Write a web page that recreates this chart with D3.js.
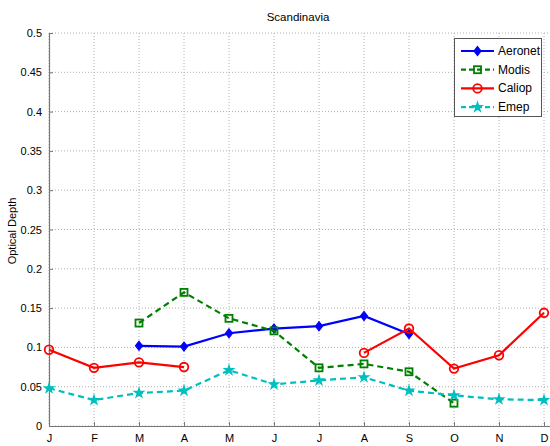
<!DOCTYPE html>
<html>
<head>
<meta charset="utf-8">
<script src="https://cdn.jsdelivr.net/npm/d3@7"></script>
<style>
  html, body { margin: 0; padding: 0; background: #fff; }
  svg { display: block; font-family: "Liberation Sans", Arial, Helvetica, sans-serif; }
</style>
</head>
<body>
<svg id="chart" width="550" height="446"></svg>
<script>
// Monthly optical depth over Scandinavia, four data sources
const months = ["J", "F", "M", "A", "M", "J", "J", "A", "S", "O", "N", "D"];
const yTicks = [0, 0.05, 0.1, 0.15, 0.2, 0.25, 0.3, 0.35, 0.4, 0.45, 0.5];

// null marks a month without a value (line breaks there)
const aeronet = [null, null, 0.102, 0.101, 0.118, 0.124, 0.127, 0.140, 0.117, null, null, null];
const modis   = [null, null, 0.131, 0.170, 0.137, 0.121, 0.074, 0.079, 0.069, 0.029, null, null];
const caliop  = [0.097, 0.074, 0.081, 0.075, null, null, null, 0.093, 0.124, 0.073, 0.090, 0.144];
const emep    = [0.048, 0.033, 0.042, 0.045, 0.071, 0.053, 0.058, 0.062, 0.045, 0.039, 0.034, 0.033];

const seriesNames = ["Aeronet", "Modis", "Caliop", "Emep"];
const seriesData = [aeronet, modis, caliop, emep];

const styles = {
  Aeronet: { color: "#0000ff", dash: null, marker: "diamond" },
  Modis:   { color: "#007f00", dash: "6,4", marker: "square" },
  Caliop:  { color: "#ff0000", dash: null, marker: "circle" },
  Emep:    { color: "#00bfbf", dash: "6,4", marker: "star" }
};

const svg = d3.select("#chart");
const plotLeft = 49, plotTop = 33, plotBottom = 426, plotRight = 560;

const x = d3.scaleLinear().domain([0, 11]).range([plotLeft, 544]);
const y = d3.scaleLinear().domain([0, 0.5]).range([plotBottom, plotTop]);

// Grid
const grid = svg.append("g");
grid.selectAll("line.h").data(yTicks).join("line")
  .attr("x1", plotLeft).attr("x2", plotRight)
  .attr("y1", d => y(d)).attr("y2", d => y(d))
  .attr("stroke", "#b0b0b0").attr("stroke-width", 1)
  .attr("stroke-dasharray", "1,2");
grid.selectAll("line.v").data(d3.range(months.length)).join("line")
  .attr("x1", d => x(d)).attr("x2", d => x(d))
  .attr("y1", plotTop).attr("y2", plotBottom)
  .attr("stroke", "#b0b0b0").attr("stroke-width", 1)
  .attr("stroke-dasharray", "1,2");

// Axes
const yAxis = d3.axisLeft(y).tickValues(yTicks).tickSize(-4).tickPadding(7)
  .tickFormat(d => String(+d.toFixed(2)));
const gy = svg.append("g").attr("transform", `translate(${plotLeft},0)`).call(yAxis);
const xAxis = d3.axisBottom(x).tickValues(d3.range(months.length)).tickSize(-4).tickPadding(8)
  .tickFormat(i => months[i]);
const gx = svg.append("g").attr("transform", `translate(0,${plotBottom})`).call(xAxis);

[gx, gy].forEach(g => {
  g.select(".domain").attr("stroke", "#777").attr("stroke-width", 1.2);
  g.selectAll(".tick line").attr("stroke", "#777");
  g.selectAll(".tick text").attr("fill", "#000").style("font-size", "11px");
});
gx.select(".domain").attr("d", `M${plotLeft},0.5H${plotRight}`);
gy.select(".domain").attr("d", `M0.5,${plotBottom}V${plotTop}`);

// Title and axis label
svg.append("text").attr("x", 298).attr("y", 21).attr("text-anchor", "middle")
  .style("font-size", "11.5px").text("Scandinavia");
svg.append("text").attr("transform", "translate(16,231) rotate(-90)")
  .attr("text-anchor", "middle").style("font-size", "11px").text("Optical Depth");

// Marker drawing
function drawMarker(g, kind, color, cx, cy) {
  if (kind === "diamond") {
    g.append("path")
      .attr("d", `M${cx},${cy - 4.5}L${cx + 3.5},${cy}L${cx},${cy + 4.5}L${cx - 3.5},${cy}Z`)
      .attr("fill", color).attr("stroke", color).attr("stroke-width", 1.2);
  } else if (kind === "square") {
    g.append("rect").attr("x", cx - 3.5).attr("y", cy - 3.5).attr("width", 7).attr("height", 7)
      .attr("fill", "none").attr("stroke", color).attr("stroke-width", 1.8);
  } else if (kind === "circle") {
    g.append("circle").attr("cx", cx).attr("cy", cy).attr("r", 4.3)
      .attr("fill", "none").attr("stroke", color).attr("stroke-width", 1.8);
  } else {
    g.append("path")
      .attr("d", d3.symbol(d3.symbolStar, 22)())
      .attr("transform", `translate(${cx},${cy})`)
      .attr("fill", color).attr("stroke", color).attr("stroke-width", 1.5);
  }
}

// Series lines and markers
const line = d3.line()
  .defined(d => d[1] !== null)
  .x(d => x(d[0])).y(d => y(d[1]));

seriesNames.forEach((name, k) => {
  const st = styles[name];
  const pts = seriesData[k].map((v, i) => [i, v]);
  const g = svg.append("g");
  g.append("path").datum(pts).attr("d", line)
    .attr("fill", "none").attr("stroke", st.color).attr("stroke-width", 2.2)
    .attr("stroke-dasharray", st.dash);
  pts.filter(p => p[1] !== null).forEach(p => drawMarker(g, st.marker, st.color, x(p[0]), y(p[1])));
});

// Legend
const lg = svg.append("g");
lg.append("rect").attr("x", 454.5).attr("y", 38.5).attr("width", 87).attr("height", 78)
  .attr("fill", "#fff").attr("stroke", "#555").attr("stroke-width", 1);
seriesNames.forEach((name, k) => {
  const st = styles[name];
  const ly = 51 + k * 18.7;
  lg.append("line").attr("x1", 461).attr("x2", 494).attr("y1", ly).attr("y2", ly)
    .attr("stroke", st.color).attr("stroke-width", 2.2).attr("stroke-dasharray", st.dash ? "5,3" : null);
  drawMarker(lg, st.marker, st.color, 477.5, ly);
  lg.append("text").attr("x", 498).attr("y", ly + 4).style("font-size", "12px").text(name);
});
</script>
</body>
</html>
